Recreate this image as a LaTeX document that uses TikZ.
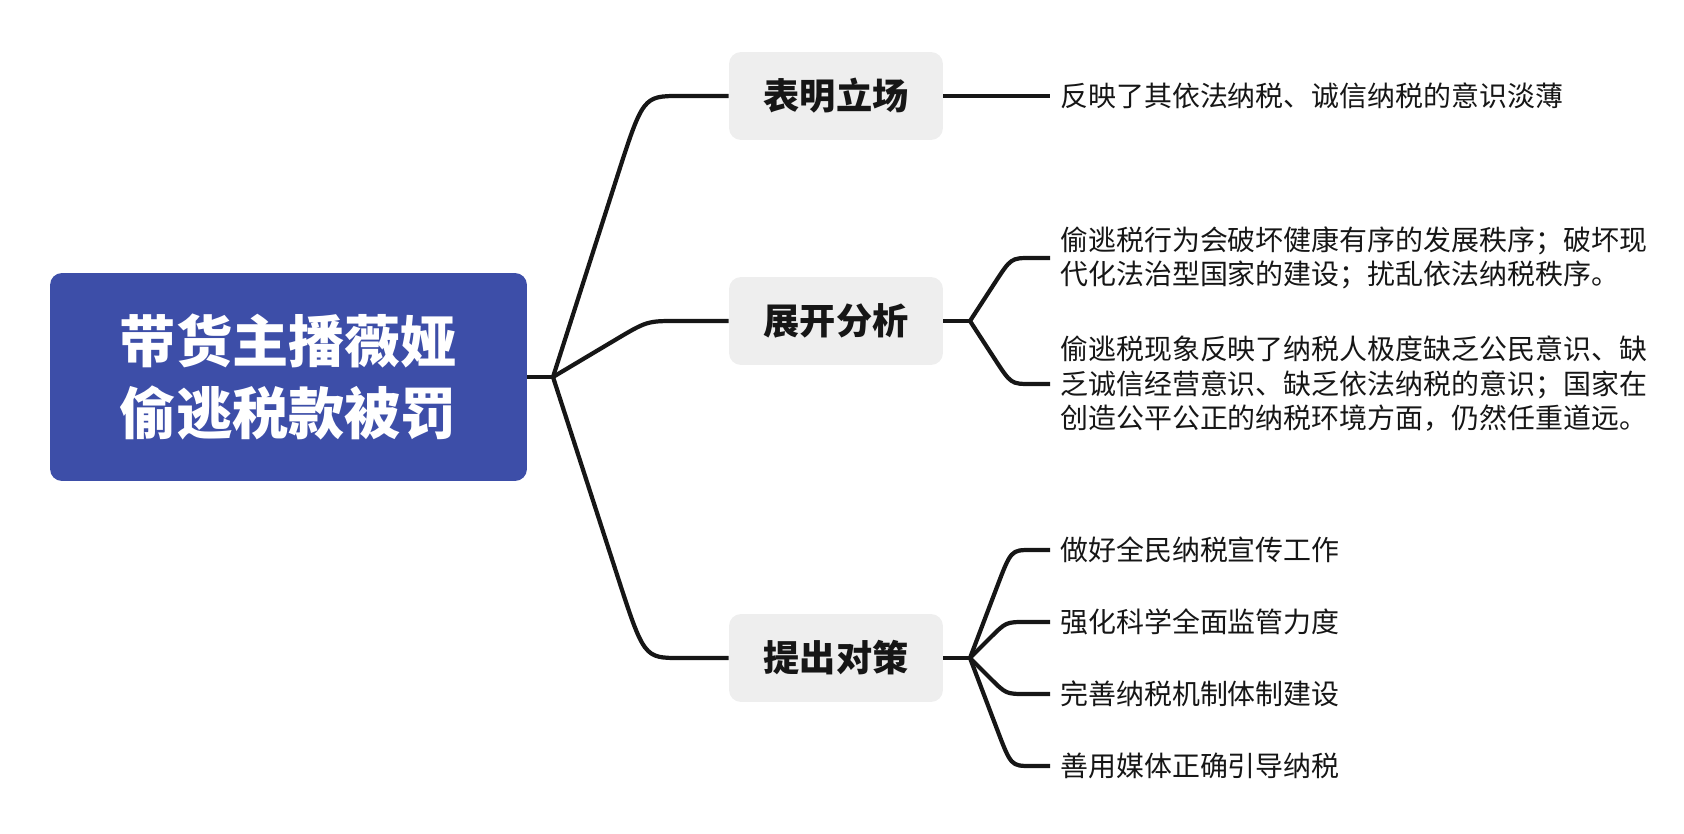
\documentclass[tikz,border=0pt]{standalone}
\usepackage{fontspec}
\setmainfont{Noto Sans CJK SC}
\usetikzlibrary{calc}
\definecolor{rootblue}{HTML}{3D4EA8}
\definecolor{topicgray}{HTML}{EEEEEE}
\definecolor{inkblack}{HTML}{161616}

\begin{document}
\begin{tikzpicture}[x=0.02cm, y=-0.02cm,
    root/.style={rectangle, rounded corners=0.24cm, fill=rootblue, text=white,
      minimum width=9.54cm, minimum height=4.16cm, align=center,
      font=\fontsize{32pt}{41pt}\selectfont\bfseries},
    topic/.style={rectangle, rounded corners=0.24cm, fill=topicgray, text=inkblack,
      minimum width=4.28cm, minimum height=1.76cm, inner sep=0pt,
      font=\fontsize{20.6pt}{25pt}\selectfont\bfseries},
    leaf/.style={anchor=west, align=left, inner xsep=0.2cm, inner ysep=0pt, text=inkblack,
      font=\fontsize{15.9pt}{19.7pt}\selectfont},
    branch/.style={draw=inkblack, line width=2.4pt, line join=round}]
\useasboundingbox (0,0) rectangle (1684,834);
% main topic and the three sub topics
\node [root] (root) at (288.5,377) {带货主播薇娅\\偷逃税款被罚};
\node [topic] (t1) at (836,96) {表明立场};
\node [topic] (t2) at (836,321) {展开分析};
\node [topic] (t3) at (836,658) {提出对策};
% leaves
\node [leaf] (l1) at (1050,96) {反映了其依法纳税、诚信纳税的意识淡薄};
\node [leaf] (l2) at (1050,258) {偷逃税行为会破坏健康有序的发展秩序；破坏现\\代化法治型国家的建设；扰乱依法纳税秩序。};
\node [leaf] (l3) at (1050,384) {偷逃税现象反映了纳税人极度缺乏公民意识、缺\\乏诚信经营意识、缺乏依法纳税的意识；国家在\\创造公平公正的纳税环境方面，仍然任重道远。};
\node [leaf] (l4) at (1050,550) {做好全民纳税宣传工作};
\node [leaf] (l5) at (1050,622) {强化科学全面监管力度};
\node [leaf] (l6) at (1050,694) {完善纳税机制体制建设};
\node [leaf] (l7) at (1050,766) {善用媒体正确引导纳税};
% junctions and bends
\coordinate (j0) at (553,377);
\coordinate (j2) at (970,321);
\coordinate (j3) at (970,658);
\coordinate (k1) at (643,96);
\coordinate (k2) at (647,321);
\coordinate (k3) at (644,658);
\coordinate (k4) at (1011,258);
\coordinate (k5) at (1011,384);
\coordinate (k6) at (1011,550);
\coordinate (k7) at (1006,622);
\coordinate (k8) at (1006,694);
\coordinate (k9) at (1011,766);
% connectors from the main topic
\draw [branch] (root.east) -- (j0);
\draw [branch] (j0) -- ($(k1)!.3!(j0)$) .. controls (k1) .. ($(k1)+(37,0)$) -- (t1.west);
\draw [branch] (j0) -- ($(k2)!.35!(j0)$) .. controls (k2) .. ($(k2)+(30,0)$) -- (t2.west);
\draw [branch] (j0) -- ($(k3)!.3!(j0)$) .. controls (k3) .. ($(k3)+(36,0)$) -- (t3.west);
% connectors to the leaves
\draw [branch] (t1.east) -- (l1.west);
\draw [branch] (t2.east) -- (j2);
\draw [branch] (j2) -- ($(k4)!.4!(j2)$) .. controls (k4) .. ($(k4)+(20,0)$) -- (l2.west);
\draw [branch] (j2) -- ($(k5)!.4!(j2)$) .. controls (k5) .. ($(k5)+(20,0)$) -- (l3.west);
\draw [branch] (t3.east) -- (j3);
\draw [branch] (j3) -- ($(k6)!.35!(j3)$) .. controls (k6) .. ($(k6)+(20,0)$) -- (l4.west);
\draw [branch] (j3) -- ($(k7)!.45!(j3)$) .. controls (k7) .. ($(k7)+(20,0)$) -- (l5.west);
\draw [branch] (j3) -- ($(k8)!.45!(j3)$) .. controls (k8) .. ($(k8)+(20,0)$) -- (l6.west);
\draw [branch] (j3) -- ($(k9)!.35!(j3)$) .. controls (k9) .. ($(k9)+(20,0)$) -- (l7.west);
\end{tikzpicture}
\end{document}
